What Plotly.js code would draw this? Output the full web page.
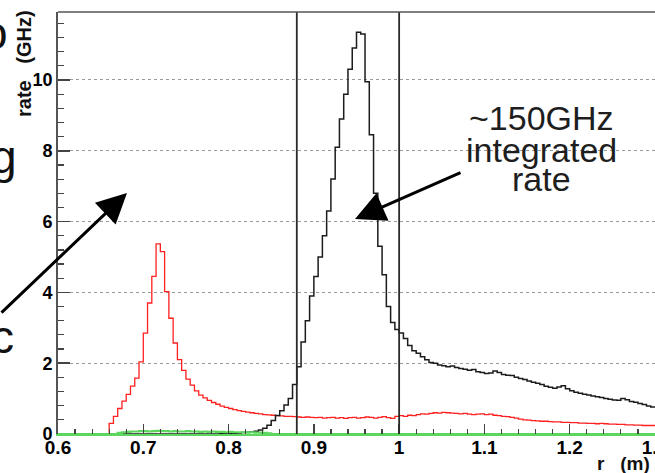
<!DOCTYPE html>
<html><head><meta charset="utf-8">
<script src="https://cdn.plot.ly/plotly-3.0.1.min.js"></script>
<style>html,body{margin:0;padding:0;overflow:hidden;background:#fff}</style>
</head><body><div id="chart"></div>
<script>
// Histogram binning (r in metres)
const binStart = 0.6;
const binWidth = 0.005;

// rate (GHz) per bin, red histogram
const redRate = [
 0,0,0,0,0,0,0,0,0,0,
 0,0,0.30,0.50,0.72,0.93,1.12,1.35,1.58,2.04,
 2.85,3.70,4.45,5.37,5.15,4.02,3.27,2.57,2.10,1.80,
 1.55,1.38,1.22,1.10,1.02,0.95,0.89,0.84,0.79,0.75,
 0.72,0.69,0.66,0.64,0.62,0.60,0.58,0.57,0.55,0.54,
 0.53,0.52,0.51,0.50,0.50,0.49,0.48,0.47,0.48,0.47,
 0.46,0.47,0.45,0.46,0.47,0.45,0.46,0.44,0.46,0.47,
 0.45,0.46,0.48,0.47,0.45,0.47,0.49,0.46,0.44,0.50,
 0.52,0.50,0.53,0.52,0.55,0.57,0.56,0.58,0.60,0.59,
 0.61,0.60,0.59,0.58,0.57,0.58,0.56,0.55,0.56,0.57,
 0.55,0.56,0.53,0.52,0.50,0.49,0.47,0.45,0.42,0.40,
 0.39,0.38,0.37,0.36,0.36,0.35,0.34,0.34,0.33,0.33,
 0.32,0.32,0.31,0.31,0.30,0.30,0.29,0.30,0.29,0.28,
 0.28,0.27,0.27,0.26,0.26,0.25,0.25,0.24,0.24,0.24
];

// rate (GHz) per bin, black histogram
const blackRate = [
 0,0,0,0,0,0,0,0,0,0,
 0,0,0,0,0,0,0,0,0,0,
 0,0,0,0,0,0,0,0,0,0,
 0,0,0,0,0,0,0,0,0.01,0.01,
 0.02,0.02,0.03,0.04,0.05,0.06,0.08,0.11,0.16,0.25,
 0.38,0.52,0.66,0.82,1.00,1.40,1.90,2.60,3.20,3.90,
 4.45,5.00,5.60,6.30,7.20,8.10,8.90,9.60,10.30,10.90,
 11.35,11.30,9.95,8.45,6.80,5.30,4.50,3.60,3.15,2.95,
 2.85,2.70,2.50,2.35,2.28,2.18,2.10,2.02,2.00,1.95,
 1.93,1.90,1.92,1.88,1.85,1.83,1.80,1.82,1.76,1.74,
 1.71,1.72,1.78,1.74,1.68,1.66,1.65,1.60,1.57,1.54,
 1.50,1.46,1.43,1.40,1.35,1.32,1.29,1.33,1.36,1.28,
 1.22,1.18,1.15,1.12,1.10,1.07,1.05,1.03,1.00,0.98,
 0.96,0.95,1.00,0.97,0.92,0.90,0.86,0.83,0.79,0.76
];

// rate (GHz) per bin, green histogram
const greenRate = [
 0,0,0,0,0,0,0,0,0,0,
 0,0,0,0,0.03,0.05,0.06,0.07,0.07,0.08,
 0.08,0.07,0.08,0.09,0.08,0.08,0.07,0.08,0.07,0.07,
 0.08,0.07,0.07,0.06,0.07,0.06,0.07,0.06,0.06,0.05,
 0.06,0.05,0.05,0.05,0.04,0.05,0.04,0.04,0.03,0.02,
 0,0,0,0,0,0,0,0,0,0,
 0,0,0,0,0,0,0,0,0,0,
 0,0,0,0,0,0,0,0,0,0,
 0,0,0,0,0,0,0,0,0,0,
 0,0,0,0,0,0,0,0,0,0,
 0,0,0,0,0,0,0,0,0,0,
 0,0,0,0,0,0,0,0,0,0,
 0,0,0,0,0,0,0,0,0,0,
 0,0,0,0,0,0,0,0,0,0
];

// vertical cut lines (r in m)
const cutLines = [0.88, 1.0];

// annotation texts
const noteLines = ["~150GHz", "integrated", "rate"];
const sideLetters = ["o", "g", "c"];
const yTitle = "rate\u00A0\u00A0\u00A0(GHz)";
const xTitle = "r\u00A0\u00A0\u00A0(m)";

// ---------- build ----------
function histXY(vals) {
  const x = [], y = [];
  for (let i = 0; i < vals.length; i++) {
    x.push(+(binStart + i * binWidth).toFixed(4));
    y.push(vals[i]);
  }
  x.push(+(binStart + vals.length * binWidth).toFixed(4));
  y.push(vals[vals.length - 1]);
  return {x, y};
}
function histTrace(vals, color, width) {
  const d = histXY(vals);
  return {x: d.x, y: d.y, type: 'scatter', mode: 'lines',
    line: {shape: 'hv', color: color, width: width}, hoverinfo: 'skip', showlegend: false};
}

const W = 680, H = 473;
const M = {l: 58, r: 25, t: 12, b: 39};
const PW = W - M.l - M.r, PH = H - M.t - M.b;
const xp = px => (px - M.l) / PW;
const yp = py => (H - M.b - py) / PH;

const FONT = 'Liberation Sans, Arial, sans-serif';

const traces = [
  histTrace(redRate, '#ff2020', 1.3),
  histTrace(blackRate, '#1c1c1c', 1.5),
  histTrace(greenRate, '#5cd65c', 2.2)
];

const shapes = cutLines.map(v => ({
  type: 'line', xref: 'x', yref: 'paper', x0: v, x1: v, y0: 0, y1: 1,
  line: {color: '#2a2a2a', width: 1.8}, layer: 'above'
}));
shapes.push({type: 'line', xref: 'paper', yref: 'paper', x0: 0, x1: 1, y0: 1, y1: 1,
  line: {color: '#555', width: 1.5}, layer: 'above'});

const annotations = [];
const noteCentersY = [118.5, 150, 179];
noteLines.forEach((t, k) => annotations.push({
  text: t, xref: 'paper', yref: 'paper', x: xp(541), y: yp(noteCentersY[k]),
  xanchor: 'center', yanchor: 'middle', showarrow: false,
  font: {family: FONT, size: 34, color: '#1e1e1e'}
}));
const sideRight = [10.5, 18.5, 16], sideY = [33, 157, 337];
sideLetters.forEach((t, k) => annotations.push({
  text: t, xref: 'paper', yref: 'paper', x: xp(sideRight[k]), y: yp(sideY[k]),
  xanchor: 'right', yanchor: 'middle', showarrow: false,
  font: {family: FONT, size: 46, color: '#111'}
}));
annotations.push({
  text: yTitle, textangle: -90, xref: 'paper', yref: 'paper', x: xp(24), y: yp(64),
  xanchor: 'center', yanchor: 'middle', showarrow: false,
  font: {family: FONT, size: 20, color: '#111', weight: 'bold'}
});
annotations.push({
  text: xTitle, xref: 'paper', yref: 'paper', x: xp(652), y: yp(463),
  xanchor: 'right', yanchor: 'middle', showarrow: false,
  font: {family: FONT, size: 19, color: '#111', weight: 'bold'}
});
// arrows
annotations.push({text: '', xref: 'paper', yref: 'paper', x: xp(127), y: yp(193),
  showarrow: true, arrowhead: 2, arrowsize: 2, arrowwidth: 3, arrowcolor: '#000',
  ax: -150, ay: 121, standoff: 0});
annotations.push({text: '', xref: 'paper', yref: 'paper', x: xp(355), y: yp(219),
  showarrow: true, arrowhead: 2, arrowsize: 2, arrowwidth: 3, arrowcolor: '#000',
  ax: 107, ay: -47, standoff: 0});

const yTickFont = {family: FONT, size: 18, color: '#000', weight: 'bold'};
const xTickFont = {family: FONT, size: 19, color: '#000', weight: 'bold'};

const layout = {
  width: W, height: H, margin: M,
  paper_bgcolor: '#fff', plot_bgcolor: '#fff',
  showlegend: false,
  xaxis: {
    range: [0.6, 1.3], autorange: false, automargin: false,
    tick0: 0.6, dtick: 0.1, ticks: 'inside', ticklen: 10, tickwidth: 1.5, tickcolor: '#444',
    minor: {dtick: 0.02, ticks: 'inside', ticklen: 5, tickwidth: 1.2, tickcolor: '#444', showgrid: false},
    showgrid: false, zeroline: false,
    showline: true, linecolor: '#5cd65c', linewidth: 1.5, mirror: false,
    tickfont: xTickFont, ticklabelstandoff: -4
  },
  yaxis: {
    range: [0, 11.92], autorange: false, automargin: false,
    tick0: 0, dtick: 2, ticks: 'inside', ticklen: 12, tickwidth: 1.5, tickcolor: '#444',
    minor: {dtick: 0.4, ticks: 'inside', ticklen: 6, tickwidth: 1.2, tickcolor: '#444', showgrid: false},
    showgrid: true, gridcolor: '#9a9a9a', griddash: 'dot', gridwidth: 1,
    zeroline: false, showline: true, linecolor: '#555', linewidth: 1.8, mirror: true,
    tickfont: yTickFont
  },
  shapes: shapes,
  annotations: annotations
};

Plotly.newPlot('chart', traces, layout, {staticPlot: true, displayModeBar: false});
</script>
</body></html>
